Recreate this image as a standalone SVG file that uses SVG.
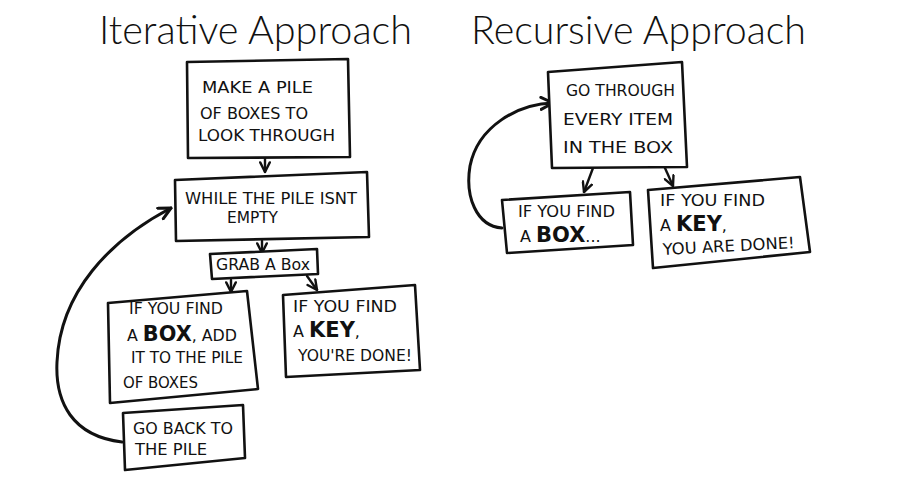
<svg xmlns="http://www.w3.org/2000/svg" width="905" height="499" viewBox="0 0 905 499">
<style>
.title{font-family:Lato,"Open Sans","DejaVu Sans",sans-serif;font-weight:300;font-size:40px;fill:#111}
.box{fill:#fff;stroke:#111;stroke-width:2.6;stroke-linejoin:round}
.t{font-family:"DejaVu Sans","Liberation Sans",sans-serif;font-size:16px;fill:#111}
.b{font-weight:bold;font-size:21px}
.c{fill:none;stroke:#111;stroke-width:2.4;stroke-linecap:round}
.loop{fill:none;stroke:#111;stroke-width:3;stroke-linecap:round}
</style>
<defs>
<marker id="ah" viewBox="0 0 10 10" refX="9" refY="5" markerWidth="5" markerHeight="5" orient="auto" markerUnits="strokeWidth">
<path d="M1,1 L9,5 L1,9" fill="none" stroke="#111" stroke-width="2" stroke-linecap="round" stroke-linejoin="round"/>
</marker>
</defs>
<rect width="905" height="499" fill="#fff"/>
<text class="title" x="99" y="44" textLength="313" lengthAdjust="spacingAndGlyphs">Iterative Approach</text>
<text class="title" x="471" y="44" textLength="335" lengthAdjust="spacingAndGlyphs">Recursive Approach</text>
<g id="connectors">
<path class="c" d="M265,158 L265,172" marker-end="url(#ah)"/>
<path class="c" d="M262,241 L262,253" marker-end="url(#ah)"/>
<path class="c" d="M231,280 L231,292" marker-end="url(#ah)"/>
<path class="c" d="M307,276 L317,290" marker-end="url(#ah)"/>
<path class="loop" d="M122,442 C72,436 55,402 57,362 C60,292 110,240 171,208" marker-end="url(#ah)"/>
<path class="c" d="M593,168 L584,192" marker-end="url(#ah)"/>
<path class="c" d="M665,168 L673,186" marker-end="url(#ah)"/>
<path class="loop" d="M502,228 C476,226 465,196 470,166 C478,126 518,104 553,103" marker-end="url(#ah)"/>
</g>
<g id="n1">
<polygon class="box" points="187,62 348,59 350,157 188,158"/>
<text class="t" x="202" y="93" textLength="111" lengthAdjust="spacingAndGlyphs">MAKE A PILE</text>
<text class="t" x="200" y="119" textLength="108" lengthAdjust="spacingAndGlyphs">OF BOXES TO</text>
<text class="t" x="198" y="141" textLength="137" lengthAdjust="spacingAndGlyphs">LOOK THROUGH</text>
</g>
<g id="n2">
<polygon class="box" points="175,180 367,172 369,237 176,241"/>
<text class="t" x="185" y="204" textLength="172" lengthAdjust="spacingAndGlyphs">WHILE THE PILE ISNT</text>
<text class="t" x="227" y="223" textLength="51" lengthAdjust="spacingAndGlyphs">EMPTY</text>
</g>
<g id="n3">
<polygon class="box" points="210,254 317,249 318,274 212,279"/>
<text class="t" x="216" y="270" textLength="94" lengthAdjust="spacingAndGlyphs">GRAB A Box</text>
</g>
<g id="n4">
<polygon class="box" points="108,303 247,291 258,389 110,403"/>
<text class="t" x="129" y="314" textLength="94" lengthAdjust="spacingAndGlyphs">IF YOU FIND</text>
<text class="t" x="127" y="341" textLength="110" lengthAdjust="spacingAndGlyphs">A <tspan class="b">BOX</tspan>, ADD</text>
<text class="t" x="131" y="363" textLength="112" lengthAdjust="spacingAndGlyphs">IT TO THE PILE</text>
<text class="t" x="123" y="388" textLength="75" lengthAdjust="spacingAndGlyphs">OF BOXES</text>
</g>
<g id="n5">
<polygon class="box" points="283,295 415,285 420,370 286,377"/>
<text class="t" x="293" y="312" textLength="104" lengthAdjust="spacingAndGlyphs">IF YOU FIND</text>
<text class="t" x="293" y="337">A <tspan class="b">KEY</tspan>,</text>
<text class="t" x="298" y="361" textLength="114" lengthAdjust="spacingAndGlyphs">YOU'RE DONE!</text>
</g>
<g id="n6">
<polygon class="box" points="123,413 243,405 245,458 125,470"/>
<text class="t" x="133" y="434" textLength="100" lengthAdjust="spacingAndGlyphs">GO BACK TO</text>
<text class="t" x="135" y="455" textLength="72" lengthAdjust="spacingAndGlyphs">THE PILE</text>
</g>
<g id="n7">
<polygon class="box" points="548,72 682,62 687,167 552,168"/>
<text class="t" x="566" y="96" textLength="109" lengthAdjust="spacingAndGlyphs">GO THROUGH</text>
<text class="t" x="563" y="125" textLength="110" lengthAdjust="spacingAndGlyphs">EVERY ITEM</text>
<text class="t" x="563" y="153" textLength="110" lengthAdjust="spacingAndGlyphs">IN THE BOX</text>
</g>
<g id="n8">
<polygon class="box" points="502,200 630,192 633,245 507,253"/>
<text class="t" x="518" y="217" textLength="97" lengthAdjust="spacingAndGlyphs">IF YOU FIND</text>
<text class="t" x="520" y="242">A <tspan class="b">BOX</tspan>...</text>
</g>
<g id="n9">
<polygon class="box" points="648,190 800,177 810,252 653,268"/>
<text class="t" x="660" y="206" textLength="105" lengthAdjust="spacingAndGlyphs">IF YOU FIND</text>
<text class="t" x="660" y="231">A <tspan class="b">KEY</tspan>,</text>
<text class="t" x="663" y="255" textLength="132" lengthAdjust="spacingAndGlyphs" transform="rotate(-3 663 255)">YOU ARE DONE!</text>
</g>
</svg>
